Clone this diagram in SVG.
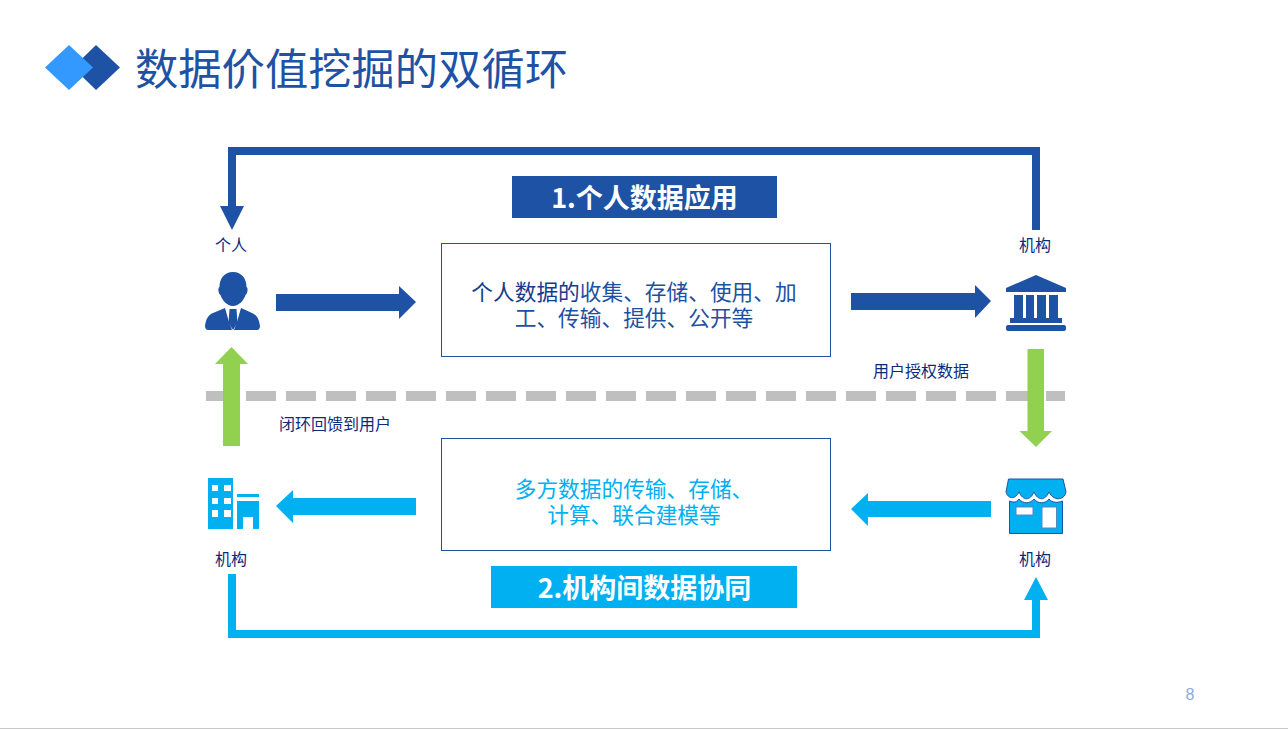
<svg xmlns="http://www.w3.org/2000/svg" width="1288" height="729" viewBox="0 0 1288 729">
<style>
text{font-family:"Noto Sans CJK SC","Liberation Sans",sans-serif;text-anchor:middle}
.lbl{font-size:16px;fill:#0b2a7c}
.body{font-size:21.700px;fill:#1e4fa1}
.body2{font-size:21.700px;fill:#00b0f0}
.ban{font-size:27px;font-weight:700;fill:#fff}
.box{fill:#fff;stroke:#1e4fa1;stroke-width:1}
.blue{fill:#1e52a4}.cyan{fill:#00b0f0}.green{fill:#92d050}
</style>
<rect width="1288" height="729" fill="#fff"/>
<g id="header">
<polygon points="96,45 120,67.500 96,90 73,67.500" fill="#1e52a4"/>
<polygon points="69,45 93,67.500 69,90 45,67.500" fill="#3399ff"/>
<text x="351.500" y="85" font-size="43.300" fill="#1e52a4">数据价值挖掘的双循环</text>
</g>
<g id="divider"><line x1="206" y1="396" x2="1065" y2="396" stroke="#bfbfbf" stroke-width="10" stroke-dasharray="30 10"/></g>
<g id="connectors">
<path class="blue" d="M1032 230V155H236V206H244L232 230L220 206H228V147H1040V230Z"/>
<path class="blue" d="M276 294H399V286L416 302L399 319V311H276Z"/>
<path class="blue" d="M851 293H975V285L991 301L975 318V310H851Z"/>
<path class="green" d="M1027.500 349H1044V431H1052L1036 447L1019.500 431H1027.500Z"/>
<path class="green" d="M223 446V364H215L231.500 347L248 364H240V446Z"/>
<path class="cyan" d="M416 498H293V490L276 506L293 523V515H416Z"/>
<path class="cyan" d="M991 501H868V493L851 509L868 526V517H991Z"/>
<path class="cyan" d="M228 574H236V630H1032V600H1024L1036 577L1048 600H1040V638H228Z"/>
</g>
<g id="banner1"><rect x="512" y="176" width="265" height="42" fill="#1e52a4"/><text class="ban" x="644.500" y="208">1.个人数据应用</text></g>
<g id="banner2"><rect x="491" y="566" width="306" height="42" fill="#00b0f0"/><text class="ban" x="644.500" y="598">2.机构间数据协同</text></g>
<g id="box1"><rect class="box" x="441.500" y="243.500" width="389" height="113"/>
<text class="body"><tspan x="634" y="300"><tspan fill="#153c8c">个人数据的</tspan>收集、存储、使用、加</tspan><tspan x="634" y="326">工、传输、提供、公开等</tspan></text></g>
<g id="box2"><rect class="box" x="441.500" y="438.500" width="389" height="112"/>
<text class="body2"><tspan x="634" y="497">多方数据的传输、存储、</tspan><tspan x="634" y="523">计算、联合建模等</tspan></text></g>
<g id="person">
<text class="lbl" x="231" y="251">个人</text>
<path class="blue" d="M233 272C242 272 246.500 279 246.500 287C248.500 288 247.500 294 245.500 295C244 300 239 306 233 306C227 306 222 300 220.500 295C218.500 294 217.500 288 219.500 287C219.500 279 224 272 233 272Z"/>
<path class="blue" d="M225 308L229 322L232 330H208C206 330 205 328 205 326C206 319 208 315 213 313Z"/>
<path class="blue" d="M241 308L237 322L234 330H257C259 330 260 328 260 326C259 319 257 315 252 313Z"/>
<path class="blue" d="M229.500 309H236.500L237.500 323L233 330L228.500 323Z"/>
</g>
<g id="bank">
<text class="lbl" x="1035" y="251">机构</text>
<path class="blue" d="M1036 275L1066 288V292H1006V288Z"/>
<path class="blue" d="M1014 295H1023V318H1014ZM1026 295H1034V318H1026ZM1037 295H1046V318H1037ZM1049 295H1058V318H1049Z"/>
<rect class="blue" x="1010" y="318" width="52" height="5"/>
<rect class="blue" x="1006" y="325" width="60" height="6" rx="2"/>
</g>
<g id="building">
<path class="cyan" fill-rule="evenodd" d="M208 478H233V529H208ZM212 485V491H218V485ZM224 485V491H231V485ZM212 498V504H218V498ZM224 498V504H231V498ZM212 510V517H218V510ZM224 510V517H231V510Z"/>
<rect class="cyan" x="237" y="494" width="22" height="3"/>
<path class="cyan" d="M237 501H259V529H253V517H243V529H237Z"/>
<text class="lbl" x="231" y="565">机构</text>
</g>
<g id="shop">
<path class="cyan" stroke="#1e52a4" stroke-width="1" d="M1008.500 479H1063L1066 492C1064 501 1053 501 1049 492C1045 501 1038 501 1034 492C1030 501 1023 501 1019 492C1015 500 1008 499 1006 492Z"/>
<path class="cyan" stroke="#1e52a4" stroke-width="1" d="M1009.500 501C1014 503 1017 502 1019 499C1023 504 1030 504 1034 499C1038 504 1045 504 1049 499C1052 503 1058 503 1062.500 501V533.500H1009.500Z"/>
<rect x="1016" y="507" width="17" height="8" fill="#fff" stroke="#5b86bf"/>
<rect x="1042" y="507" width="14.500" height="21" fill="#fff" stroke="#5b86bf"/>
<text class="lbl" x="1035" y="565">机构</text>
</g>
<g id="notes">
<text class="lbl" x="921" y="377">用户授权数据</text>
<text class="lbl" x="335" y="430">闭环回馈到用户</text>
<text x="1190" y="700" font-size="16" fill="#8faadc" style="font-family:'Liberation Sans',sans-serif">8</text>
</g>
<line x1="0" y1="728.500" x2="1288" y2="728.500" stroke="#c8c8c8"/>
</svg>
